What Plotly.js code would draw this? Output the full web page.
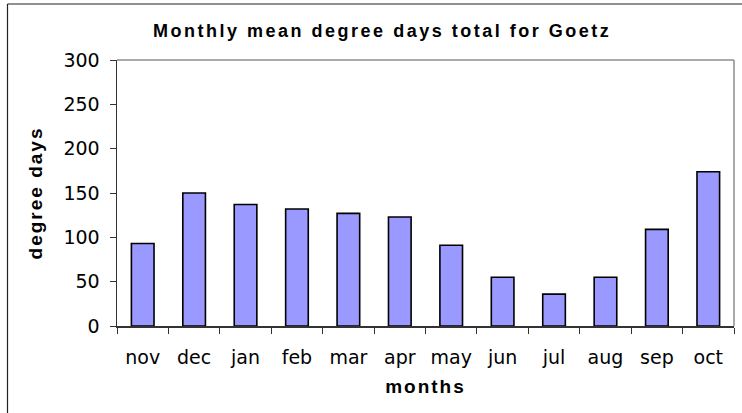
<!DOCTYPE html>
<html>
<head>
<meta charset="utf-8">
<script src="https://cdn.plot.ly/plotly-3.0.1.min.js"></script>
<style>
html,body{margin:0;padding:0;background:#fff;}
#chart{width:742px;height:413px;}
#chart .gtitle{letter-spacing:2.5px;}
#chart .xtitle,#chart .ytitle{letter-spacing:2px;}
</style>
</head>
<body>
<div id="chart"></div>
<script>
const months = ["nov","dec","jan","feb","mar","apr","may","jun","jul","aug","sep","oct"];
const degreeDays = [93,150,137,132,127,123,91,55,36,55,109,174];
const yTicks = [0,50,100,150,200,250,300];

const W = 742, H = 413;
const m = {l:117, r:8, t:60, b:87};
const pw = W - m.l - m.r, ph = H - m.t - m.b;
const px = x => (x - m.l) / pw;
const py = y => (H - m.b - y) / ph;

const trace = {
  type: 'bar',
  x: months,
  y: degreeDays,
  marker: {color: '#9999ff', line: {color: '#000000', width: 1.6}},
  hoverinfo: 'x+y'
};

const font = "Liberation Sans, Arial, sans-serif";
const tickFont = "DejaVu Sans, sans-serif";

const layout = {
  width: W, height: H,
  margin: {l: m.l, r: m.r, t: m.t, b: m.b, pad: 0},
  paper_bgcolor: '#ffffff',
  plot_bgcolor: '#ffffff',
  showlegend: false,
  bargap: 0.56,
  title: {
    text: 'Monthly mean degree days total for Goetz',
    font: {family: font, size: 18, color: '#000', weight: 'bold'},
    x: 0.515, xanchor: 'center', y: 0.925, yanchor: 'middle'
  },
  xaxis: {
    type: 'category',
    tickvals: months,
    ticktext: months,
    ticks: 'outside', ticklen: 6, tickcolor: '#333', tickwidth: 1,
    tickson: 'boundaries',
    ticklabelstandoff: 14,
    showline: true, linecolor: '#333', linewidth: 1.5,
    mirror: false,
    showgrid: false, zeroline: false,
    tickfont: {family: tickFont, size: 19, color: '#000'},
    title: {text: 'months', font: {family: font, size: 19, color: '#000', weight: 'bold'}, standoff: 12},
    fixedrange: true
  },
  yaxis: {
    range: [0, 300],
    tickvals: yTicks,
    ticks: 'outside', ticklen: 6, tickcolor: '#333', tickwidth: 1,
    ticklabelstandoff: 6,
    showline: true, linecolor: '#333', linewidth: 1.5,
    showgrid: false, zeroline: false,
    tickfont: {family: tickFont, size: 19, color: '#000'},
    title: {text: 'degree days', font: {family: font, size: 19, color: '#000', weight: 'bold'}, standoff: 16},
    fixedrange: true
  },
  shapes: [
    {type:'line', xref:'paper', yref:'paper', x0:0, x1:1, y0:1, y1:1, line:{color:'#8c8c8c', width:1.5}},
    {type:'line', xref:'paper', yref:'paper', x0:1, x1:1, y0:0, y1:1, line:{color:'#8c8c8c', width:1.5}},
    {type:'line', xref:'paper', yref:'paper', x0:px(7.5), x1:px(7.5), y0:py(4), y1:py(420), line:{color:'#222', width:1.2}},
    {type:'line', xref:'paper', yref:'paper', x0:px(7.5), x1:px(760), y0:py(4), y1:py(4), line:{color:'#222', width:1.2}}
  ]
};

Plotly.newPlot('chart', [trace], layout, {displayModeBar: false, staticPlot: true});
</script>
</body>
</html>
